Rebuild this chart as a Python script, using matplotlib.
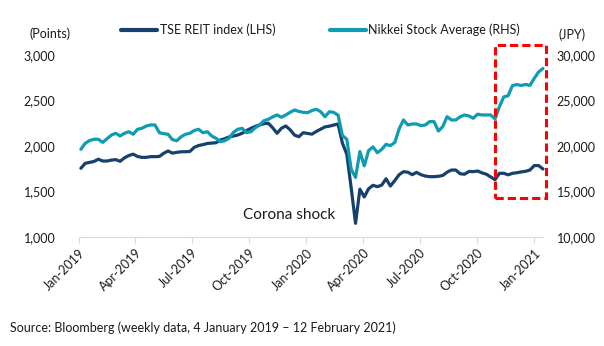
import numpy as np
import pandas as pd
import matplotlib
matplotlib.use('Agg')
import matplotlib.pyplot as plt
import matplotlib.dates as mdates
from matplotlib.patches import Rectangle
from matplotlib.lines import Line2D

plt.rcParams['font.family'] = ['Lato', 'DejaVu Sans']

# weekly closes, 4 Jan 2019 onwards
dates = pd.date_range('2019-01-04', periods=107, freq='7D')

reit = [1755, 1810, 1820, 1830, 1855, 1835, 1835, 1845, 1850, 1832,
        1870, 1895, 1910, 1885, 1875, 1875, 1883, 1883, 1885, 1920,
        1945, 1922, 1930, 1937, 1937, 1940, 1985, 2005, 2015, 2028,
        2032, 2036, 2066, 2080, 2100, 2110, 2121, 2140, 2170, 2194,
        2215, 2232, 2245, 2250, 2200, 2140, 2195, 2220, 2178, 2120,
        2102, 2146, 2138, 2130, 2160, 2185, 2210, 2218, 2230, 2242,
        2030, 1910, 1540, 1150, 1525, 1440, 1530, 1568, 1553, 1570,
        1640, 1560, 1620, 1685, 1718, 1712, 1685, 1710, 1685, 1670,
        1663, 1663, 1667, 1676, 1712, 1736, 1736, 1695, 1690, 1720,
        1718, 1725, 1705, 1690, 1660, 1630, 1700, 1700, 1683, 1700,
        1706, 1715, 1722, 1736, 1785, 1785, 1747]

nikkei = [19640, 20300, 20600, 20740, 20740, 20400, 20800, 21200, 21400, 21100,
          21400, 21570, 21290, 21840, 21940, 22200, 22310, 22310, 21460, 21350,
          21290, 20700, 20580, 21020, 21290, 21400, 21700, 21840, 21460, 21570,
          21100, 20850, 20470, 20580, 20850, 21500, 21840, 21940, 21460, 21570,
          22000, 22310, 22780, 22940, 23200, 23410, 23160, 23410, 23700, 23960,
          23800, 23700, 23660, 23900, 24040, 23770, 23220, 23770, 23690, 23390,
          21140, 20750, 17430, 16550, 19390, 17820, 19500, 19900, 19260, 19620,
          20180, 20040, 20390, 21880, 22860, 22310, 22420, 22420, 22240, 22310,
          22680, 22680, 21650, 22120, 23220, 22860, 22860, 23220, 23410, 23300,
          23050, 23500, 23410, 23410, 23410, 22980, 24330, 25390, 25530, 26640,
          26750, 26650, 26760, 26660, 27440, 28140, 28520]

left_ticks = [1000, 1500, 2000, 2500, 3000]
right_ticks = [10000, 15000, 20000, 25000, 30000]

navy = '#17406d'
teal = '#0f9bb2'
txt = '#1a1a1a'

fig = plt.figure(figsize=(6.04, 3.46), dpi=100)
ax = fig.add_axes([79 / 604, 109 / 346, 464 / 604, 182 / 346])
ax2 = ax.twinx()

ax.plot(dates, reit, color=navy, lw=2.3, solid_capstyle='round', clip_on=False)
ax2.plot(dates, nikkei, color=teal, lw=2.3, solid_capstyle='round', clip_on=False)

ax.set_xlim(pd.Timestamp('2019-01-01'), pd.Timestamp('2021-01-15'))
ax.set_ylim(1000, 3000)
ax2.set_ylim(10000, 30000)

ax.set_yticks(left_ticks)
ax.set_yticklabels([f'{v:,}' for v in left_ticks])
ax2.set_yticks(right_ticks)
ax2.set_yticklabels([f'{v:,}' for v in right_ticks])

ax.xaxis.set_major_locator(mdates.MonthLocator(bymonth=[1, 4, 7, 10]))
ax.xaxis.set_major_formatter(mdates.DateFormatter('%b-%Y'))
for lab in ax.get_xticklabels():
    lab.set_rotation(45)
    lab.set_ha('right')
    lab.set_rotation_mode('anchor')

for a in (ax, ax2):
    for s in ('top', 'left', 'right'):
        a.spines[s].set_visible(False)
    a.spines['bottom'].set_color('#d9d9d9')
ax2.spines['bottom'].set_visible(False)

ax.tick_params(axis='x', length=4, color='#d9d9d9', labelsize=9, labelcolor=txt, pad=3)
ax.tick_params(axis='y', length=0, labelsize=9, labelcolor=txt, pad=17)
ax2.tick_params(axis='y', length=0, labelsize=9, labelcolor=txt, pad=10)

# highlight box around the late-2020 rally (right-axis units)
x0 = mdates.date2num(pd.Timestamp('2020-10-30'))
x1 = mdates.date2num(pd.Timestamp('2021-01-20'))
box = Rectangle((x0, 14290), x1 - x0, 31100 - 14290, fill=False,
                edgecolor='#ff0000', lw=2.2, linestyle=(0, (2.7, 1.3)),
                clip_on=False, zorder=5)
ax2.add_patch(box)

ax.text(mdates.date2num(pd.Timestamp('2019-12-05')), 1242, 'Corona shock',
        ha='center', va='center', fontsize=11, color=txt)

# legend drawn by hand
fig.add_artist(Line2D([121 / 604, 157 / 604], [1 - 30 / 346] * 2, color=navy, lw=3,
                      solid_capstyle='round'))
fig.text(160 / 604, 1 - 30 / 346, 'TSE REIT index (LHS)', va='center', fontsize=9, color=txt)
fig.add_artist(Line2D([330 / 604, 366 / 604], [1 - 30 / 346] * 2, color=teal, lw=3,
                      solid_capstyle='round'))
fig.text(368 / 604, 1 - 30 / 346, 'Nikkei Stock Average (RHS)', va='center', fontsize=9, color=txt)

fig.text(50 / 604, 1 - 34 / 346, '(Points)', ha='center', va='center', fontsize=9, color=txt)
fig.text(572 / 604, 1 - 35 / 346, '(JPY)', ha='center', va='center', fontsize=9, color=txt)

fig.text(10 / 604, 1 - 328 / 346, 'Source: Bloomberg (weekly data, 4 January 2019 \u2013 12 February 2021)',
         va='center', fontsize=9, color=txt)

fig.savefig('out.png', dpi=100)
